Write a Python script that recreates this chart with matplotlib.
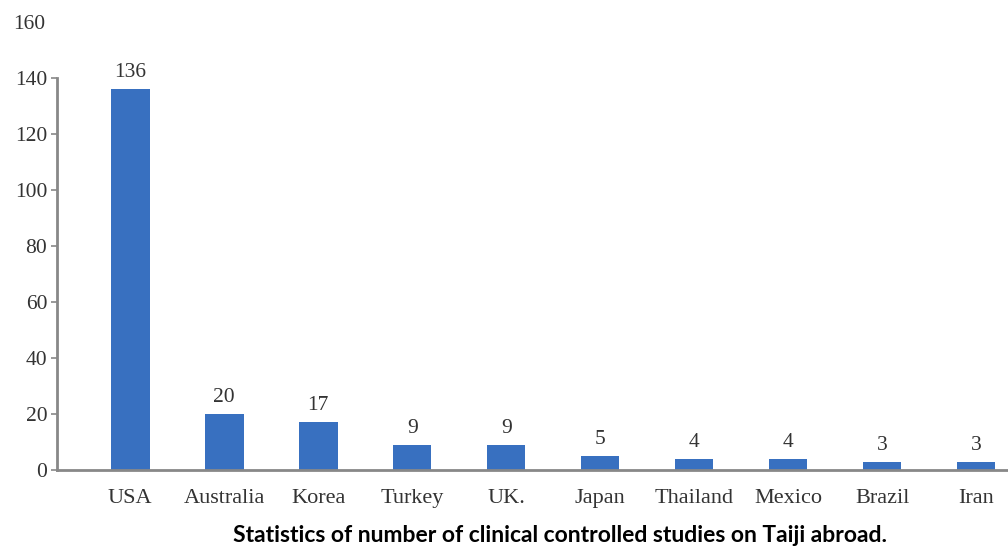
import matplotlib.pyplot as plt
from matplotlib.transforms import blended_transform_factory

countries = ["USA", "Australia", "Korea", "Turkey", "UK.", "Japan",
             "Thailand", "Mexico", "Brazil", "Iran"]
studies = [136, 20, 17, 9, 9, 5, 4, 4, 3, 3]
y_ticks = [0, 20, 40, 60, 80, 100, 120, 140]

plt.rcParams["font.family"] = ["Liberation Serif", "DejaVu Serif"]

fig = plt.figure(figsize=(10.08, 5.56), dpi=100)
ax = fig.add_axes([57 / 1008, 86 / 556, 1 - 57 / 1008, 448 / 556])

x = range(len(countries))
ax.bar(x, studies, width=0.41, color="#3870c0", zorder=2)
for xi, v in zip(x, studies):
    ax.text(xi, v + 2.5, str(v), ha="center", va="bottom", fontsize=15.5, color="#333333")

ax.set_xlim(-0.78, 9.34)
ax.set_ylim(0, 160)
ax.set_xticks(list(x))
ax.set_xticklabels(countries, fontsize=16, color="#333333")
ax.tick_params(axis="x", length=0, pad=14)
ax.set_yticks(y_ticks)
ax.tick_params(axis="y", length=4, width=1.2, color="#888888", labelsize=15.5,
               labelcolor="#333333", pad=3)

trans = blended_transform_factory(ax.transAxes, ax.transData)
ax.text(-0.0125, 159, "160", transform=trans, ha="right", va="center",
        fontsize=15.5, color="#333333")

for side in ["top", "right"]:
    ax.spines[side].set_visible(False)
ax.spines["left"].set_bounds(0, 140)
ax.spines["left"].set_color("#888888")
ax.spines["left"].set_linewidth(2)
ax.spines["bottom"].set_color("#888888")
ax.spines["bottom"].set_linewidth(2)

fig.text(560 / 1008, 1 - 535 / 556,
         "Statistics of number of clinical controlled studies on Taiji abroad.",
         ha="center", va="center", fontsize=16.5, fontweight="bold",
         family=["Lato", "DejaVu Sans"])

fig.savefig("out.png", dpi=100)
